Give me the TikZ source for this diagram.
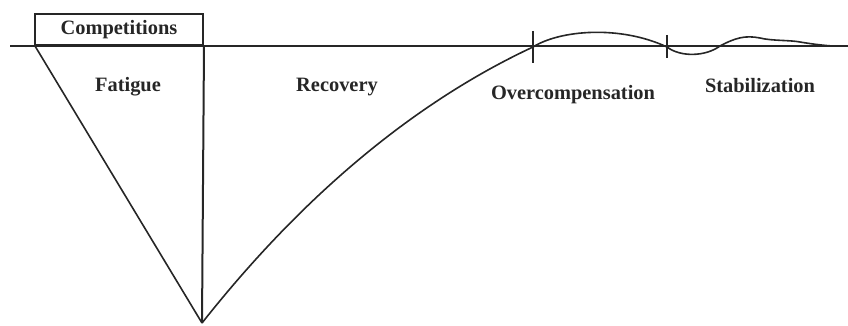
\documentclass[tikz,border=0pt]{standalone}
\usepackage{fontspec}
\setmainfont{Liberation Serif}
\usepackage{tikz}
\usetikzlibrary{positioning,calc}

\begin{document}
\begin{tikzpicture}[x=0.5pt, y=-0.5pt,
  axis/.style={draw=black!85, line width=1pt},
  curve/.style={draw=black!85, line width=0.8pt},
  phase/.style={font=\fontsize{10.2}{12}\selectfont\bfseries, text=black!85},
  box/.style={draw=black!85, line width=1pt, minimum width=84pt, minimum height=15.5pt, inner sep=0pt, anchor=south west, font=\fontsize{10.2}{12}\selectfont\bfseries, text=black!85}]
\useasboundingbox (0,0) rectangle (848,326);
% baseline and the competition box
\coordinate (start) at (10,46);
\coordinate (end)   at (848,46);
\node[box] (comp) at (34,46) {Competitions};
\coordinate (low) at (202,323);
\coordinate (over) at (533,47);
\coordinate (stab) at (667,47);
\draw[axis] (start) -- (end);
\draw[axis] (comp.south east) -- (low);
\draw[curve] ($(comp.south west)+(1,0)$) -- (low);
% recovery and supercompensation
\draw[curve] (low) .. controls (315,180) and (430,95) .. (over);
\draw[curve] (over) .. controls (560,30) and (620,25) .. (stab);
\draw[curve] (stab) .. controls (680,57) and (705,57) .. (720,46)
  .. controls (735,38) and (745,35) .. (760,38)
  .. controls (772,41) and (790,40) .. (800,42)
  .. controls (812,44) and (820,45) .. (832,46);
\draw[axis] ($(over)+(0,-16)$) -- ($(over)+(0,16)$);
\draw[axis] ($(stab)+(0,-12)$) -- ($(stab)+(0,11)$);
% phase names
\node[phase] (fat) at (128,87) {Fatigue};
\node[phase] (rec) at (337,87) {Recovery};
\node[phase] (ovc) at (573,95) {Overcompensation};
\node[phase] (sta) at (760,86) {Stabilization};
\end{tikzpicture}
\end{document}
